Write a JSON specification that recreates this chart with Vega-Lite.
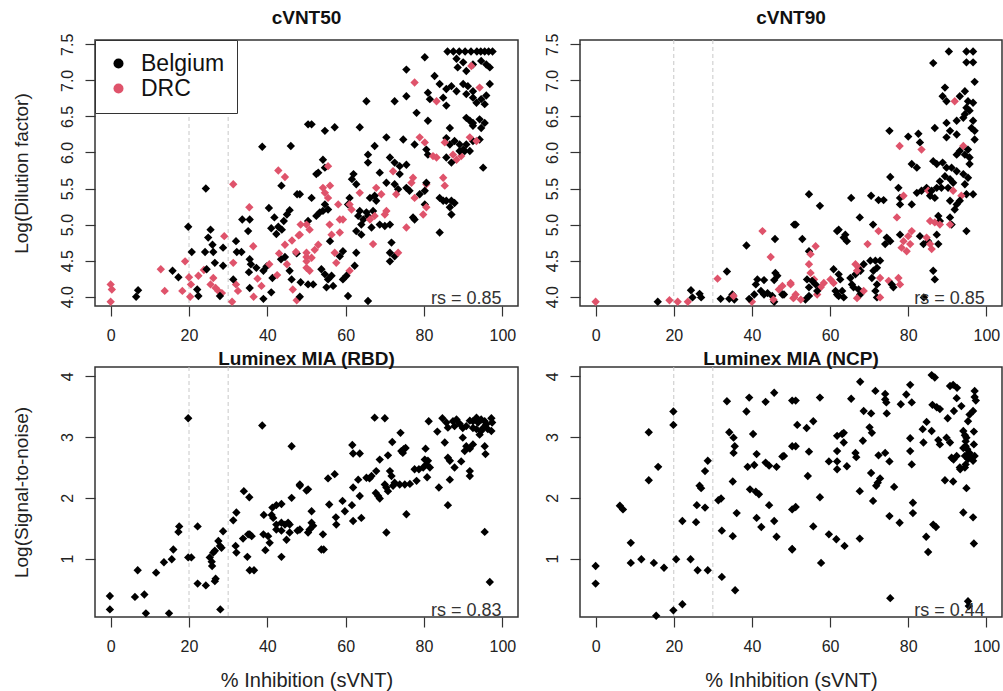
{
"$schema": "https://vega.github.io/schema/vega-lite/v6.json",
"padding": {"left": 11, "top": 8, "right": 0, "bottom": 0},
"autosize": {"type": "pad"},
"bounds": "flush",
"columns": 2,
"spacing": {"row": 61, "column": 62},
"config": {
  "font": "Liberation Sans",
  "view": {"stroke": "#333", "strokeWidth": 1.5},
  "axis": {"domain": false, "grid": false, "ticks": true, "tickSize": 10, "tickColor": "#333", "tickWidth": 1.2, "labelFont": "Liberation Sans", "labelFontSize": 16, "labelColor": "#222", "titleFont": "Liberation Sans", "titleFontWeight": "normal", "titleFontSize": 19, "titleColor": "#222", "labelOverlap": false, "labelFlush": false},
  "title": {"font": "Liberation Sans", "fontSize": 19, "fontWeight": "bold", "color": "#111", "frame": "group", "anchor": "middle", "offset": 5}
},
"concat": [
 {"width": 423, "height": 266, "title": "cVNT50",
  "layer": [
   {"data": {"values": [{"x": 20}, {"x": 30}]}, "mark": {"type": "rule", "strokeDash": [4, 3], "color": "#c8c8c8", "strokeWidth": 1}, "encoding": {"x": {"field": "x", "type": "quantitative"}}},
   {"data": {"values": [
{"x":0,"y":4.17,"c":"D"},{"x":0.3,"y":4.1,"c":"D"},{"x":0,"y":3.93,"c":"D"},{"x":7,"y":4.09,"c":"B"},{"x":6.5,"y":4.0,"c":"B"},{"x":13.8,"y":4.08,"c":"D"},{"x":12.8,"y":4.38,"c":"D"},{"x":15.8,"y":4.36,"c":"B"},{"x":17.3,"y":4.27,"c":"B"},{"x":18.3,"y":4.08,"c":"D"},{"x":19,"y":4.49,"c":"D"},{"x":20,"y":4.27,"c":"D"},{"x":20.5,"y":4.17,"c":"D"},{"x":20.3,"y":4.0,"c":"D"},{"x":19.8,"y":4.97,"c":"B"},{"x":20.7,"y":4.62,"c":"B"},{"x":22.1,"y":4.1,"c":"B"},{"x":22.4,"y":4.01,"c":"B"},{"x":22.4,"y":4.29,"c":"D"},{"x":23.8,"y":4.37,"c":"D"},{"x":24.3,"y":5.5,"c":"B"},{"x":24.1,"y":4.62,"c":"B"},{"x":24.5,"y":4.38,"c":"B"},{"x":26.2,"y":4.62,"c":"B"},{"x":25.5,"y":4.93,"c":"B"},{"x":24.9,"y":4.82,"c":"B"},{"x":26,"y":4.72,"c":"B"},{"x":25.5,"y":4.17,"c":"D"},{"x":26.2,"y":4.26,"c":"D"},{"x":26.8,"y":4.12,"c":"D"},{"x":27.5,"y":4.08,"c":"D"},{"x":28.4,"y":4.05,"c":"D"},{"x":27.9,"y":4.01,"c":"B"},{"x":26.6,"y":4.47,"c":"B"},{"x":28.7,"y":4.43,"c":"B"},{"x":28.7,"y":4.68,"c":"B"},{"x":29,"y":4.84,"c":"D"},{"x":31.3,"y":5.56,"c":"D"},{"x":31.3,"y":4.47,"c":"D"},{"x":32,"y":4.17,"c":"D"},{"x":32.5,"y":4.08,"c":"D"},{"x":31,"y":3.93,"c":"D"},{"x":31.3,"y":4.24,"c":"B"},{"x":32,"y":4.77,"c":"B"},{"x":32.2,"y":4.62,"c":"B"},{"x":33.4,"y":4.62,"c":"B"},{"x":33.6,"y":5.07,"c":"B"},{"x":35.5,"y":5.07,"c":"B"},{"x":35.1,"y":4.91,"c":"B"},{"x":35.5,"y":4.52,"c":"B"},{"x":35.8,"y":4.45,"c":"B"},{"x":35.5,"y":4.12,"c":"B"},{"x":35.3,"y":4.34,"c":"B"},{"x":37.2,"y":4.4,"c":"B"},{"x":35.4,"y":5.24,"c":"D"},{"x":36.4,"y":4.7,"c":"D"},{"x":36.5,"y":4.0,"c":"D"},{"x":37.5,"y":4.25,"c":"D"},{"x":38.7,"y":6.08,"c":"B"},{"x":40.4,"y":5.23,"c":"B"},{"x":41.8,"y":5.1,"c":"B"},{"x":41,"y":4.95,"c":"B"},{"x":42.3,"y":4.87,"c":"B"},{"x":42.8,"y":4.97,"c":"B"},{"x":43.7,"y":4.93,"c":"B"},{"x":44.2,"y":5.05,"c":"B"},{"x":45,"y":5.14,"c":"B"},{"x":45.7,"y":5.2,"c":"B"},{"x":43.6,"y":5.54,"c":"B"},{"x":46,"y":6.09,"c":"B"},{"x":47.6,"y":5.42,"c":"B"},{"x":45.7,"y":4.36,"c":"B"},{"x":46.2,"y":4.24,"c":"B"},{"x":41.3,"y":4.26,"c":"B"},{"x":39,"y":4.36,"c":"B"},{"x":39.8,"y":4.42,"c":"B"},{"x":43.5,"y":4.52,"c":"B"},{"x":44.5,"y":4.55,"c":"B"},{"x":47.5,"y":4.6,"c":"B"},{"x":48.5,"y":4.2,"c":"B"},{"x":41,"y":4.06,"c":"B"},{"x":39,"y":3.97,"c":"B"},{"x":42.8,"y":5.75,"c":"D"},{"x":44.5,"y":5.66,"c":"D"},{"x":43,"y":4.6,"c":"D"},{"x":44.5,"y":4.72,"c":"D"},{"x":46.3,"y":4.78,"c":"D"},{"x":47.3,"y":4.62,"c":"D"},{"x":48,"y":4.85,"c":"D"},{"x":48.5,"y":5.0,"c":"D"},{"x":45,"y":4.45,"c":"D"},{"x":42.5,"y":4.3,"c":"D"},{"x":40.5,"y":4.45,"c":"D"},{"x":46.5,"y":4.1,"c":"D"},{"x":50,"y":4.55,"c":"D"},{"x":38.5,"y":4.15,"c":"D"},{"x":47.5,"y":3.95,"c":"D"},{"x":50.4,"y":6.39,"c":"B"},
{"x":86,"y":7.4,"c":"B"},{"x":87.5,"y":7.4,"c":"B"},{"x":89,"y":7.4,"c":"B"},{"x":90.5,"y":7.4,"c":"B"},{"x":92,"y":7.4,"c":"B"},{"x":93.5,"y":7.4,"c":"B"},{"x":94.5,"y":7.4,"c":"B"},{"x":95.5,"y":7.4,"c":"B"},{"x":96.5,"y":7.4,"c":"B"},{"x":97.5,"y":7.4,"c":"B"},{"x":80.2,"y":7.32,"c":"B"},{"x":88.3,"y":7.3,"c":"B"},{"x":90,"y":7.25,"c":"B"},{"x":88.6,"y":7.18,"c":"B"},{"x":90.8,"y":7.13,"c":"B"},{"x":92.5,"y":7.22,"c":"B"},{"x":94.6,"y":7.27,"c":"B"},{"x":95.9,"y":7.22,"c":"B"},{"x":96.8,"y":7.18,"c":"B"},{"x":92.1,"y":7.2,"c":"D"},{"x":75.5,"y":7.15,"c":"B"},{"x":82.7,"y":7.06,"c":"B"},{"x":77.6,"y":6.97,"c":"D"},{"x":84,"y":6.95,"c":"B"},{"x":85.7,"y":6.88,"c":"B"},{"x":87,"y":6.92,"c":"B"},{"x":88.3,"y":6.85,"c":"B"},{"x":90,"y":6.95,"c":"B"},{"x":91.2,"y":6.92,"c":"B"},{"x":92.5,"y":6.85,"c":"B"},{"x":96.8,"y":6.95,"c":"B"},{"x":94.2,"y":6.9,"c":"D"},{"x":81,"y":6.83,"c":"B"},{"x":75.5,"y":6.78,"c":"B"},{"x":81.5,"y":6.74,"c":"B"},{"x":83.2,"y":6.71,"c":"D"},{"x":84.9,"y":6.76,"c":"B"},{"x":85.7,"y":6.65,"c":"B"},{"x":90.8,"y":6.81,"c":"B"},{"x":92.5,"y":6.76,"c":"B"},{"x":93.4,"y":6.69,"c":"B"},{"x":94.6,"y":6.74,"c":"B"},{"x":95.5,"y":6.67,"c":"B"},{"x":95.9,"y":6.79,"c":"B"},{"x":65.3,"y":6.71,"c":"B"},{"x":72.5,"y":6.71,"c":"B"},{"x":78.1,"y":6.55,"c":"B"},{"x":81,"y":6.44,"c":"B"},{"x":90.8,"y":6.48,"c":"B"},{"x":91.7,"y":6.44,"c":"B"},{"x":92.5,"y":6.41,"c":"B"},{"x":94.2,"y":6.46,"c":"B"},{"x":92.5,"y":6.37,"c":"B"},{"x":94.6,"y":6.34,"c":"B"},{"x":95.5,"y":6.41,"c":"B"},{"x":51.3,"y":6.39,"c":"B"},{"x":54.7,"y":6.3,"c":"B"},{"x":57.2,"y":6.35,"c":"B"},{"x":63.6,"y":6.35,"c":"B"},{"x":86.6,"y":6.34,"c":"B"},{"x":70.4,"y":6.21,"c":"B"},{"x":74.7,"y":6.18,"c":"B"},{"x":78.9,"y":6.21,"c":"D"},{"x":80.2,"y":6.14,"c":"D"},{"x":77.6,"y":6.11,"c":"B"},{"x":85.7,"y":6.2,"c":"B"},{"x":86.6,"y":6.11,"c":"B"},{"x":87.8,"y":6.16,"c":"B"},{"x":89.1,"y":6.11,"c":"B"},{"x":90,"y":6.04,"c":"B"},{"x":90.8,"y":6.11,"c":"B"},{"x":92.5,"y":6.16,"c":"B"},{"x":94.2,"y":6.18,"c":"B"},{"x":91.7,"y":6.21,"c":"D"},{"x":93.4,"y":6.16,"c":"D"},{"x":85.3,"y":6.14,"c":"D"},{"x":67.4,"y":6.09,"c":"B"},{"x":71.3,"y":5.93,"c":"B"},{"x":72.5,"y":5.86,"c":"B"},{"x":73.8,"y":5.81,"c":"B"},{"x":75.5,"y":5.83,"c":"B"},{"x":80.6,"y":6.04,"c":"B"},{"x":81,"y":5.97,"c":"B"},{"x":82.3,"y":5.95,"c":"D"},{"x":83.2,"y":5.93,"c":"D"},{"x":87.4,"y":5.97,"c":"D"},{"x":88.3,"y":5.9,"c":"D"},{"x":89.5,"y":5.95,"c":"D"},{"x":90.4,"y":6.02,"c":"B"},{"x":91.7,"y":6.02,"c":"B"},{"x":89.1,"y":6.02,"c":"B"},{"x":85.7,"y":5.93,"c":"B"},{"x":87,"y":5.86,"c":"B"},{"x":95.1,"y":5.79,"c":"B"},{"x":65.7,"y":5.97,"c":"B"},{"x":65.7,"y":5.86,"c":"B"},{"x":54.2,"y":5.9,"c":"B"},{"x":54.7,"y":5.79,"c":"B"},{"x":53,"y":5.72,"c":"B"},{"x":52.5,"y":5.7,"c":"B"},{"x":55.5,"y":5.81,"c":"D"},{"x":68.7,"y":5.72,"c":"B"},{"x":72.1,"y":5.74,"c":"D"},{"x":73.8,"y":5.7,"c":"B"},{"x":62,"y":5.7,"c":"B"},{"x":61.6,"y":5.63,"c":"B"},{"x":62.7,"y":5.56,"c":"B"},{"x":77.2,"y":5.65,"c":"D"},{"x":76.8,"y":5.58,"c":"D"},{"x":80.6,"y":5.56,"c":"D"},{"x":84.9,"y":5.65,"c":"D"},{"x":85.3,"y":5.54,"c":"D"},{"x":70.4,"y":5.58,"c":"B"},{"x":72.5,"y":5.56,"c":"B"},{"x":73.4,"y":5.49,"c":"B"},{"x":75.5,"y":5.51,"c":"B"},{"x":67.8,"y":5.51,"c":"D"},{"x":69.1,"y":5.42,"c":"D"},{"x":54.2,"y":5.51,"c":"D"},{"x":56,"y":5.54,"c":"D"},{"x":54.7,"y":5.44,"c":"D"},{"x":55.5,"y":5.37,"c":"D"},{"x":51.3,"y":5.37,"c":"B"},{"x":61,"y":5.37,"c":"B"},{"x":60.6,"y":5.28,"c":"B"},{"x":63.6,"y":5.44,"c":"D"},{"x":66.2,"y":5.37,"c":"B"},{"x":67.4,"y":5.4,"c":"B"},{"x":67.8,"y":5.33,"c":"B"},{"x":72.9,"y":5.42,"c":"D"},{"x":76.3,"y":5.47,"c":"B"},{"x":77.6,"y":5.37,"c":"D"},{"x":78.9,"y":5.42,"c":"B"},{"x":80.2,"y":5.47,"c":"B"},{"x":80.6,"y":5.58,"c":"B"},{"x":84,"y":5.37,"c":"B"},{"x":84.9,"y":5.33,"c":"B"},{"x":85.7,"y":5.33,"c":"B"},{"x":87,"y":5.33,"c":"B"},{"x":87.8,"y":5.3,"c":"B"},{"x":80.2,"y":5.28,"c":"B"},{"x":80.6,"y":5.24,"c":"D"},{"x":79.8,"y":5.14,"c":"D"},{"x":86.6,"y":5.24,"c":"B"},{"x":87,"y":5.14,"c":"B"},{"x":84,"y":4.89,"c":"B"},{"x":48.3,"y":5.42,"c":"B"},{"x":54.7,"y":5.28,"c":"B"},{"x":55.5,"y":5.21,"c":"B"},{"x":54.2,"y":5.19,"c":"B"},{"x":58.1,"y":5.28,"c":"D"},{"x":61,"y":5.28,"c":"D"},{"x":61.5,"y":5.21,"c":"D"},{"x":63.6,"y":5.19,"c":"B"},{"x":63.2,"y":5.12,"c":"B"},{"x":65.3,"y":5.17,"c":"B"},{"x":67,"y":5.19,"c":"B"},{"x":65.7,"y":5.12,"c":"B"},{"x":64.5,"y":5.07,"c":"B"},{"x":64,"y":5.0,"c":"B"},{"x":66.2,"y":5.07,"c":"D"},{"x":67.4,"y":5.12,"c":"D"},{"x":70.4,"y":5.19,"c":"D"},{"x":70,"y":5.14,"c":"D"},{"x":68.7,"y":5.0,"c":"B"},{"x":70,"y":4.98,"c":"B"},{"x":71.3,"y":5.0,"c":"B"},{"x":52.5,"y":5.12,"c":"B"},{"x":53.4,"y":5.17,"c":"B"},{"x":50.4,"y":5.05,"c":"B"},{"x":50,"y":5.0,"c":"D"},{"x":50.8,"y":4.93,"c":"D"},{"x":48.3,"y":4.86,"c":"D"},{"x":58.5,"y":5.07,"c":"D"},{"x":59.3,"y":5.07,"c":"D"},{"x":55.9,"y":5.0,"c":"D"},{"x":56.4,"y":4.86,"c":"D"},{"x":58.5,"y":4.89,"c":"D"},{"x":62.7,"y":4.91,"c":"B"},{"x":64,"y":4.86,"c":"B"},{"x":66.6,"y":4.96,"c":"B"},{"x":67,"y":4.73,"c":"D"},{"x":71.7,"y":4.75,"c":"B"},{"x":75.5,"y":4.96,"c":"D"},{"x":77.6,"y":5.07,"c":"B"},{"x":77.2,"y":5.1,"c":"B"},{"x":71.3,"y":4.61,"c":"B"},{"x":72.5,"y":4.56,"c":"B"},{"x":71.3,"y":4.49,"c":"B"},{"x":73.4,"y":4.61,"c":"D"},{"x":56,"y":4.77,"c":"B"},{"x":53,"y":4.72,"c":"D"},{"x":52.1,"y":4.65,"c":"D"},{"x":50,"y":4.61,"c":"D"},{"x":51.3,"y":4.54,"c":"D"},{"x":50,"y":4.49,"c":"D"},{"x":59.3,"y":4.63,"c":"B"},{"x":58.5,"y":4.56,"c":"B"},{"x":57.2,"y":4.61,"c":"D"},{"x":57.6,"y":4.47,"c":"D"},{"x":62.7,"y":4.61,"c":"B"},{"x":53.8,"y":4.38,"c":"B"},{"x":54.7,"y":4.31,"c":"B"},{"x":55.5,"y":4.24,"c":"B"},{"x":56.4,"y":4.29,"c":"B"},{"x":61,"y":4.36,"c":"D"},{"x":60.2,"y":4.29,"c":"B"},{"x":59.3,"y":4.24,"c":"B"},{"x":62.3,"y":4.43,"c":"B"},{"x":50.8,"y":4.36,"c":"D"},{"x":50,"y":4.4,"c":"D"},{"x":50.4,"y":4.17,"c":"B"},{"x":51.7,"y":4.17,"c":"B"},{"x":55.1,"y":4.13,"c":"B"},{"x":56.8,"y":4.15,"c":"B"},{"x":60.6,"y":4.01,"c":"B"},{"x":65.7,"y":3.94,"c":"B"},{"x":48.3,"y":4.0,"c":"B"}
   ]},
   "mark": {"type": "point", "shape": "diamond", "filled": true, "size": 70, "opacity": 1},
   "encoding": {
     "x": {"field": "x", "type": "quantitative", "scale": {"domain": [-4, 104], "nice": false, "zero": false}, "axis": {"values": [0, 20, 40, 60, 80, 100], "tickCount": 20, "labelPadding": 11, "labelOverlap": false, "title": null}},
     "y": {"field": "y", "type": "quantitative", "scale": {"domain": [3.871, 7.56], "nice": false, "zero": false}, "axis": {"values": [4, 4.5, 5, 5.5, 6, 6.5, 7, 7.5], "tickCount": 20, "format": ".1f", "labelOverlap": false, "labelAngle": -90, "labelAlign": "center", "labelBaseline": "bottom", "labelPadding": 10, "title": "Log(Dilution factor)", "titleX": -74, "titleY": 133, "titleAngle": -90, "titleAlign": "center", "titleBaseline": "middle"}},
     "color": {"field": "c", "type": "nominal", "scale": {"domain": ["B", "D"], "range": ["#000000", "#DF536B"]},
       "legend": {"orient": "top-left", "offset": 0, "title": null, "padding": 12, "strokeColor": "#333", "fillColor": "white", "symbolType": "circle", "symbolSize": 100, "symbolStrokeWidth": 0, "labelFontSize": 23, "labelFont": "Liberation Sans", "labelColor": "#111", "labelOffset": 11, "symbolOffset": 0, "rowPadding": 1, "labelExpr": "datum.label == 'B' ? 'Belgium' : 'DRC'"}}
   }},
   {"data": {"values": [{"x": 99.8, "y": 3.899, "t": "rs = 0.85"}]}, "mark": {"type": "text", "align": "right", "baseline": "alphabetic", "fontSize": 18, "color": "#333"}, "encoding": {"x": {"field": "x", "type": "quantitative"}, "y": {"field": "y", "type": "quantitative"}, "text": {"field": "t"}}}
  ]},
 {"width": 422, "height": 266, "title": "cVNT90",
  "layer": [
   {"data": {"values": [{"x": 20}, {"x": 30}]}, "mark": {"type": "rule", "strokeDash": [4, 3], "color": "#c8c8c8", "strokeWidth": 1}, "encoding": {"x": {"field": "x", "type": "quantitative"}}},
   {"data": {"values": [
{"x":0,"y":3.93,"c":"D"},{"x":15.9,"y":3.93,"c":"B"},{"x":18.9,"y":3.95,"c":"D"},{"x":21,"y":3.93,"c":"D"},{"x":23.6,"y":3.93,"c":"D"},{"x":24.4,"y":4.09,"c":"B"},{"x":24.8,"y":3.99,"c":"B"},{"x":26.6,"y":4.04,"c":"B"},{"x":27,"y":3.99,"c":"B"},{"x":31.2,"y":4.25,"c":"D"},{"x":33.6,"y":4.35,"c":"B"},{"x":32,"y":3.97,"c":"B"},{"x":34.2,"y":3.97,"c":"B"},{"x":35,"y":4.03,"c":"B"},{"x":35.5,"y":3.96,"c":"B"},{"x":35.3,"y":4.01,"c":"D"},{"x":38.6,"y":4.71,"c":"B"},{"x":40,"y":3.93,"c":"D"},{"x":39.3,"y":3.97,"c":"B"},{"x":40.6,"y":4.03,"c":"B"},{"x":41,"y":4.17,"c":"B"},{"x":41.4,"y":4.24,"c":"B"},{"x":43.1,"y":4.23,"c":"B"},{"x":42.3,"y":4.08,"c":"B"},{"x":43.1,"y":4.03,"c":"B"},{"x":44,"y":4.05,"c":"B"},{"x":45.2,"y":4.01,"c":"B"},{"x":45.7,"y":3.93,"c":"B"},{"x":42.7,"y":4.91,"c":"D"},{"x":45.9,"y":4.8,"c":"B"},{"x":44.8,"y":4.55,"c":"D"},{"x":46,"y":4.33,"c":"B"},{"x":46.5,"y":4.29,"c":"B"},{"x":45.7,"y":4.23,"c":"B"},{"x":45.5,"y":3.96,"c":"D"},{"x":46.9,"y":4.1,"c":"D"},{"x":47.8,"y":4.15,"c":"D"},{"x":47.8,"y":4.03,"c":"B"},{"x":49.9,"y":4.19,"c":"D"},{"x":50.6,"y":3.98,"c":"D"},{"x":50.8,"y":5.0,"c":"B"},
{"x":90.4,"y":7.4,"c":"B"},{"x":94.9,"y":7.4,"c":"B"},{"x":96.6,"y":7.4,"c":"B"},{"x":94.9,"y":7.25,"c":"B"},{"x":96.6,"y":7.25,"c":"B"},{"x":86.4,"y":7.24,"c":"B"},{"x":97,"y":6.98,"c":"B"},{"x":89.4,"y":6.9,"c":"B"},{"x":88.8,"y":6.78,"c":"B"},{"x":89.8,"y":6.71,"c":"B"},{"x":91.9,"y":6.71,"c":"D"},{"x":93.2,"y":6.78,"c":"B"},{"x":94.5,"y":6.85,"c":"B"},{"x":95.3,"y":6.71,"c":"B"},{"x":96.6,"y":6.69,"c":"B"},{"x":94.9,"y":6.62,"c":"B"},{"x":94.5,"y":6.53,"c":"B"},{"x":95.7,"y":6.58,"c":"B"},{"x":96.6,"y":6.44,"c":"B"},{"x":96.2,"y":6.34,"c":"B"},{"x":97,"y":6.3,"c":"B"},{"x":94.1,"y":6.48,"c":"B"},{"x":92.4,"y":6.44,"c":"B"},{"x":89.8,"y":6.41,"c":"B"},{"x":86.8,"y":6.34,"c":"B"},{"x":90.7,"y":6.3,"c":"B"},{"x":89.8,"y":6.21,"c":"B"},{"x":92.4,"y":6.25,"c":"B"},{"x":75.2,"y":6.3,"c":"B"},{"x":80,"y":6.22,"c":"B"},{"x":82.6,"y":6.26,"c":"B"},{"x":83,"y":6.14,"c":"B"},{"x":77.8,"y":6.09,"c":"D"},{"x":83.4,"y":6.04,"c":"D"},{"x":94.1,"y":6.09,"c":"D"},{"x":93.2,"y":6.02,"c":"B"},{"x":94.5,"y":5.97,"c":"B"},{"x":95.3,"y":6.04,"c":"B"},{"x":95.7,"y":5.93,"c":"B"},{"x":92.4,"y":5.97,"c":"B"},{"x":97,"y":6.18,"c":"B"},{"x":80.9,"y":5.84,"c":"B"},{"x":82.2,"y":5.79,"c":"B"},{"x":87.3,"y":5.84,"c":"B"},{"x":88.8,"y":5.86,"c":"B"},{"x":89.8,"y":5.79,"c":"B"},{"x":91.1,"y":5.79,"c":"B"},{"x":92.4,"y":5.74,"c":"B"},{"x":95.7,"y":5.84,"c":"B"},{"x":95.3,"y":5.65,"c":"B"},{"x":89.4,"y":5.67,"c":"B"},{"x":90.7,"y":5.63,"c":"B"},{"x":91.5,"y":5.58,"c":"B"},{"x":88.1,"y":5.6,"c":"B"},{"x":88.5,"y":5.51,"c":"B"},{"x":90.2,"y":5.51,"c":"B"},{"x":94.1,"y":5.7,"c":"B"},{"x":94.5,"y":5.56,"c":"B"},{"x":94.9,"y":5.42,"c":"B"},{"x":96.6,"y":5.42,"c":"B"},{"x":86.4,"y":5.88,"c":"B"},{"x":75.4,"y":5.66,"c":"B"},{"x":77.5,"y":5.51,"c":"B"},{"x":77.9,"y":5.37,"c":"B"},{"x":82.2,"y":5.44,"c":"B"},{"x":83.4,"y":5.47,"c":"B"},{"x":84.7,"y":5.51,"c":"B"},{"x":85.1,"y":5.47,"c":"D"},{"x":86,"y":5.47,"c":"B"},{"x":87.3,"y":5.51,"c":"B"},{"x":86.8,"y":5.37,"c":"B"},{"x":85.6,"y":5.4,"c":"B"},{"x":78.8,"y":5.4,"c":"D"},{"x":91.5,"y":5.47,"c":"D"},{"x":93.6,"y":5.4,"c":"D"},{"x":92.4,"y":5.28,"c":"B"},{"x":93.2,"y":5.33,"c":"B"},{"x":91.9,"y":5.21,"c":"B"},{"x":90.7,"y":5.33,"c":"B"},{"x":54.6,"y":5.42,"c":"B"},{"x":57.4,"y":5.26,"c":"B"},{"x":65.4,"y":5.37,"c":"B"},{"x":70.5,"y":5.4,"c":"B"},{"x":72.4,"y":5.34,"c":"B"},{"x":73.7,"y":5.34,"c":"B"},{"x":77.9,"y":5.28,"c":"B"},{"x":80.9,"y":5.28,"c":"B"},{"x":87.7,"y":5.12,"c":"B"},{"x":88.1,"y":5.05,"c":"B"},{"x":85.6,"y":5.05,"c":"D"},{"x":86.8,"y":5.03,"c":"D"},{"x":88.1,"y":5.0,"c":"D"},{"x":90.7,"y":5.1,"c":"B"},{"x":91.1,"y":5.0,"c":"B"},{"x":90.7,"y":5.0,"c":"D"},{"x":94.9,"y":4.91,"c":"B"},{"x":77.1,"y":5.1,"c":"D"},{"x":67.6,"y":5.1,"c":"B"},{"x":71,"y":5.0,"c":"B"},{"x":62.2,"y":4.93,"c":"B"},{"x":61.8,"y":4.91,"c":"B"},{"x":63.5,"y":4.82,"c":"B"},{"x":64.3,"y":4.77,"c":"B"},{"x":63.9,"y":4.86,"c":"B"},{"x":51.2,"y":5.0,"c":"B"},{"x":72.4,"y":4.91,"c":"D"},{"x":69.6,"y":4.73,"c":"D"},{"x":74.5,"y":4.82,"c":"B"},{"x":74.1,"y":4.73,"c":"B"},{"x":75.4,"y":4.77,"c":"B"},{"x":80.9,"y":4.91,"c":"D"},{"x":80,"y":4.84,"c":"D"},{"x":80.5,"y":4.73,"c":"D"},{"x":77.9,"y":4.86,"c":"B"},{"x":78.8,"y":4.77,"c":"D"},{"x":83,"y":4.84,"c":"B"},{"x":83.9,"y":4.73,"c":"B"},{"x":85.1,"y":4.77,"c":"B"},{"x":84.7,"y":4.82,"c":"D"},{"x":85.6,"y":4.73,"c":"D"},{"x":86,"y":4.66,"c":"D"},{"x":87.3,"y":4.86,"c":"B"},{"x":87.7,"y":4.73,"c":"B"},{"x":78.3,"y":4.68,"c":"D"},{"x":79.6,"y":4.63,"c":"D"},{"x":52.9,"y":4.8,"c":"B"},{"x":56.3,"y":4.7,"c":"D"},{"x":54.6,"y":4.63,"c":"B"},{"x":55,"y":4.59,"c":"D"},{"x":54.6,"y":4.45,"c":"D"},{"x":55,"y":4.33,"c":"D"},{"x":55.9,"y":4.24,"c":"D"},{"x":54.1,"y":4.24,"c":"B"},{"x":55.4,"y":4.22,"c":"B"},{"x":54.6,"y":4.13,"c":"B"},{"x":60.9,"y":4.38,"c":"B"},{"x":62.2,"y":4.31,"c":"B"},{"x":62.6,"y":4.24,"c":"B"},{"x":60.1,"y":4.24,"c":"D"},{"x":60.9,"y":4.19,"c":"D"},{"x":66.5,"y":4.45,"c":"D"},{"x":67.3,"y":4.4,"c":"D"},{"x":68.6,"y":4.45,"c":"B"},{"x":67.8,"y":4.36,"c":"B"},{"x":66.5,"y":4.31,"c":"B"},{"x":70.3,"y":4.5,"c":"B"},{"x":71.6,"y":4.5,"c":"B"},{"x":72.8,"y":4.5,"c":"B"},{"x":72,"y":4.4,"c":"B"},{"x":71.1,"y":4.36,"c":"B"},{"x":70.7,"y":4.26,"c":"B"},{"x":72.8,"y":4.26,"c":"D"},{"x":75,"y":4.22,"c":"D"},{"x":77.5,"y":4.26,"c":"D"},{"x":77.9,"y":4.17,"c":"D"},{"x":75.8,"y":4.17,"c":"B"},{"x":76.2,"y":4.13,"c":"B"},{"x":65.2,"y":4.26,"c":"B"},{"x":65.6,"y":4.17,"c":"B"},{"x":66,"y":4.13,"c":"B"},{"x":67.3,"y":4.1,"c":"B"},{"x":67.7,"y":4.03,"c":"B"},{"x":66.9,"y":4.36,"c":"D"},{"x":68.6,"y":4.08,"c":"D"},{"x":63.1,"y":4.08,"c":"B"},{"x":62.2,"y":4.01,"c":"B"},{"x":63.5,"y":3.99,"c":"B"},{"x":58.4,"y":4.19,"c":"D"},{"x":57.6,"y":4.13,"c":"D"},{"x":56.7,"y":4.03,"c":"D"},{"x":56.3,"y":4.17,"c":"B"},{"x":56.7,"y":4.08,"c":"B"},{"x":54.6,"y":4.01,"c":"B"},{"x":53.7,"y":3.96,"c":"B"},{"x":49.9,"y":4.17,"c":"D"},{"x":51.2,"y":4.03,"c":"D"},{"x":50.8,"y":3.99,"c":"D"},{"x":52.5,"y":3.96,"c":"D"},{"x":48.2,"y":4.03,"c":"B"},{"x":61.4,"y":4.08,"c":"B"},{"x":61.8,"y":4.03,"c":"B"},{"x":66.9,"y":3.98,"c":"D"},{"x":72,"y":4.17,"c":"B"},{"x":71.6,"y":4.08,"c":"B"},{"x":72,"y":3.99,"c":"B"},{"x":72.8,"y":3.99,"c":"D"},{"x":86.4,"y":4.36,"c":"B"},{"x":86.8,"y":4.24,"c":"B"},{"x":84,"y":3.99,"c":"B"}
   ]},
   "mark": {"type": "point", "shape": "diamond", "filled": true, "size": 70, "opacity": 1},
   "encoding": {
     "x": {"field": "x", "type": "quantitative", "scale": {"domain": [-4, 104], "nice": false, "zero": false}, "axis": {"values": [0, 20, 40, 60, 80, 100], "tickCount": 20, "labelPadding": 11, "labelOverlap": false, "title": null}},
     "y": {"field": "y", "type": "quantitative", "scale": {"domain": [3.871, 7.56], "nice": false, "zero": false}, "axis": {"values": [4, 4.5, 5, 5.5, 6, 6.5, 7, 7.5], "tickCount": 20, "format": ".1f", "labelOverlap": false, "labelAngle": -90, "labelAlign": "center", "labelBaseline": "bottom", "labelPadding": 10, "title": null}},
     "color": {"field": "c", "type": "nominal", "scale": {"domain": ["B", "D"], "range": ["#000000", "#DF536B"]}, "legend": null}
   }},
   {"data": {"values": [{"x": 99.6, "y": 3.899, "t": "rs = 0.85"}]}, "mark": {"type": "text", "align": "right", "baseline": "alphabetic", "fontSize": 18, "color": "#333"}, "encoding": {"x": {"field": "x", "type": "quantitative"}, "y": {"field": "y", "type": "quantitative"}, "text": {"field": "t"}}}
  ]},
 {"width": 423, "height": 250, "title": {"text": "Luminex MIA (RBD)", "offset": -2},
  "layer": [
   {"data": {"values": [{"x": 20}, {"x": 30}]}, "mark": {"type": "rule", "strokeDash": [4, 3], "color": "#c8c8c8", "strokeWidth": 1}, "encoding": {"x": {"field": "x", "type": "quantitative"}}},
   {"data": {"values": [
{"x":-0.2,"y":0.385},{"x":-0.2,"y":0.165},{"x":6.2,"y":0.37},{"x":8.6,"y":0.41},{"x":9,"y":0.1},{"x":14.9,"y":0.1},{"x":6.9,"y":0.81},{"x":11.6,"y":0.77},{"x":13.6,"y":0.94},{"x":15.6,"y":0.99},{"x":16,"y":1.15},{"x":17.3,"y":1.44},{"x":17.5,"y":1.53},{"x":19.8,"y":3.31},{"x":19.8,"y":1.02},{"x":20.6,"y":1.02},{"x":22.2,"y":1.53},{"x":22.2,"y":0.59},{"x":24.3,"y":0.56},{"x":26.6,"y":0.63},{"x":26.8,"y":0.67},{"x":28,"y":0.165},{"x":25.3,"y":1.02},{"x":25.8,"y":0.95},{"x":26.2,"y":1.1},{"x":26.6,"y":1.13},{"x":27.5,"y":1.29},{"x":27.9,"y":1.21},{"x":28.3,"y":1.18},{"x":28.7,"y":1.45},{"x":25.9,"y":0.88},{"x":31.3,"y":1.63},{"x":32.1,"y":1.76},{"x":31.9,"y":1.21},{"x":32.1,"y":1.1},{"x":34,"y":2.11},{"x":35.4,"y":2.01},{"x":33.8,"y":1.33},{"x":35.1,"y":1.4},{"x":35.5,"y":1.4},{"x":36,"y":1.37},{"x":34.9,"y":1.03},{"x":35.5,"y":0.81},{"x":36.6,"y":0.81},{"x":38.7,"y":3.19},{"x":39.1,"y":1.72},{"x":41.1,"y":1.72},{"x":39,"y":1.4},{"x":40.2,"y":1.37},{"x":39.5,"y":1.14},{"x":40.6,"y":1.26},{"x":41.3,"y":1.84},{"x":42.3,"y":1.88},{"x":43.6,"y":1.9},{"x":41.5,"y":1.67},{"x":42.3,"y":1.56},{"x":43.6,"y":1.59},{"x":44.5,"y":1.56},{"x":45.3,"y":1.59},{"x":45.7,"y":1.56},{"x":42.3,"y":1.48},{"x":43.6,"y":1.46},{"x":43.6,"y":1.03},{"x":44.9,"y":1.31},{"x":45.7,"y":1.43},{"x":46.2,"y":2.85},{"x":46.2,"y":2.0},{"x":47.7,"y":1.46},{"x":48.3,"y":2.2},{"x":50,"y":2.12},{"x":50.4,"y":1.43},
{"x":48.3,"y":2.22},{"x":50.4,"y":2.14},{"x":51.3,"y":1.78},{"x":51.3,"y":1.59},{"x":51.7,"y":1.54},{"x":50.8,"y":1.48},{"x":48.3,"y":1.48},{"x":54.2,"y":1.4},{"x":53.8,"y":1.15},{"x":54.4,"y":1.15},{"x":55.5,"y":2.32},{"x":57.2,"y":2.39},{"x":55.8,"y":1.89},{"x":57.5,"y":1.68},{"x":57.6,"y":1.56},{"x":59.2,"y":1.95},{"x":59.8,"y":1.78},{"x":61.6,"y":1.88},{"x":61.9,"y":1.62},{"x":64,"y":1.67},{"x":61.7,"y":2.87},{"x":61.9,"y":2.73},{"x":63.6,"y":2.73},{"x":61.9,"y":2.17},{"x":63.2,"y":2.3},{"x":63.6,"y":2.03},{"x":65.3,"y":2.33},{"x":66.1,"y":2.32},{"x":66.6,"y":2.36},{"x":67.8,"y":2.44},{"x":68.7,"y":2.63},{"x":70.8,"y":2.7},{"x":67.4,"y":3.32},{"x":70,"y":3.31},{"x":67.7,"y":2.08},{"x":68.3,"y":2.03},{"x":68.7,"y":1.99},{"x":70,"y":2.22},{"x":70.4,"y":2.17},{"x":70.8,"y":2.11},{"x":71.3,"y":2.44},{"x":71.7,"y":2.36},{"x":72.1,"y":2.2},{"x":70.4,"y":1.43},{"x":71.9,"y":2.92},{"x":72.5,"y":2.25},{"x":73.8,"y":2.22},{"x":75.1,"y":2.22},{"x":76.4,"y":2.23},{"x":78.1,"y":2.28},{"x":74,"y":3.07},{"x":74.8,"y":2.8},{"x":75.3,"y":2.82},{"x":74.2,"y":2.77},{"x":74.6,"y":2.74},{"x":75.5,"y":1.73},{"x":77.6,"y":2.47},{"x":78.7,"y":2.47},{"x":79.8,"y":2.5},{"x":80.6,"y":2.55},{"x":80.4,"y":2.81},{"x":80.2,"y":2.63},{"x":81,"y":2.61},{"x":81.5,"y":2.5},{"x":80.8,"y":2.34},{"x":81.2,"y":3.26},{"x":83.8,"y":2.17},{"x":83.4,"y":3.09},{"x":84.7,"y":3.31},{"x":85.7,"y":3.24},{"x":86.1,"y":3.155},{"x":85.3,"y":2.91},{"x":86.1,"y":2.66},{"x":86.6,"y":2.61},{"x":86.6,"y":2.3},{"x":86.1,"y":1.88},{"x":87.4,"y":3.26},{"x":87.8,"y":3.18},{"x":88.3,"y":3.29},{"x":89.1,"y":3.22},{"x":89.9,"y":3.15},{"x":90.8,"y":3.18},{"x":91.7,"y":3.27},{"x":92.5,"y":3.26},{"x":93.4,"y":3.32},{"x":93.8,"y":3.24},{"x":94.6,"y":3.29},{"x":95.5,"y":3.26},{"x":95.9,"y":3.21},{"x":97.2,"y":3.31},{"x":97.4,"y":3.24},{"x":94.6,"y":3.1},{"x":94.2,"y":3.04},{"x":95.1,"y":3.15},{"x":96.3,"y":3.13},{"x":97.2,"y":3.1},{"x":92.5,"y":3.15},{"x":93.4,"y":3.13},{"x":89.9,"y":2.99},{"x":87.8,"y":2.5},{"x":89.5,"y":2.6},{"x":90.4,"y":2.77},{"x":90.8,"y":2.85},{"x":91.7,"y":2.81},{"x":92.5,"y":2.88},{"x":91.7,"y":2.44},{"x":91.7,"y":2.36},{"x":95.5,"y":2.85},{"x":95.7,"y":2.72},{"x":95.5,"y":1.44},{"x":96.8,"y":0.615}
   ]},
   "mark": {"type": "point", "shape": "diamond", "filled": true, "size": 70, "opacity": 1, "color": "#000000"},
   "encoding": {
     "x": {"field": "x", "type": "quantitative", "scale": {"domain": [-4, 104], "nice": false, "zero": false}, "axis": {"values": [0, 20, 40, 60, 80, 100], "tickCount": 20, "labelPadding": 11, "labelOverlap": false, "title": "% Inhibition (sVNT)", "titleY": 63, "titleBaseline": "middle", "titleFontSize": 20}},
     "y": {"field": "y", "type": "quantitative", "scale": {"domain": [0.04, 4.153], "nice": false, "zero": false}, "axis": {"values": [1, 2, 3, 4], "tickCount": 20, "format": "d", "labelOverlap": false, "labelAngle": -90, "labelAlign": "center", "labelBaseline": "bottom", "labelPadding": 10, "title": "Log(Signal-to-noise)", "titleX": -74, "titleY": 125, "titleAngle": -90, "titleAlign": "center", "titleBaseline": "middle"}}
   }},
   {"data": {"values": [{"x": 99.8, "y": 0.056, "t": "rs = 0.83"}]}, "mark": {"type": "text", "align": "right", "baseline": "alphabetic", "fontSize": 18, "color": "#333"}, "encoding": {"x": {"field": "x", "type": "quantitative"}, "y": {"field": "y", "type": "quantitative"}, "text": {"field": "t"}}}
  ]},
 {"width": 422, "height": 250, "title": {"text": "Luminex MIA (NCP)", "offset": -2},
  "layer": [
   {"data": {"values": [{"x": 20}, {"x": 30}]}, "mark": {"type": "rule", "strokeDash": [4, 3], "color": "#c8c8c8", "strokeWidth": 1}, "encoding": {"x": {"field": "x", "type": "quantitative"}}},
   {"data": {"values": [
{"x":0,"y":0.88},{"x":0,"y":0.59},{"x":6.2,"y":1.87},{"x":7,"y":1.81},{"x":9,"y":1.26},{"x":9,"y":0.93},{"x":11.7,"y":0.99},{"x":13.6,"y":3.08},{"x":13.6,"y":2.29},{"x":14.9,"y":0.93},{"x":16,"y":2.51},{"x":17.5,"y":0.85},{"x":15.5,"y":0.06},{"x":19.9,"y":3.42},{"x":19.9,"y":3.2},{"x":20.6,"y":0.99},{"x":19.9,"y":0.15},{"x":22.2,"y":1.62},{"x":22.2,"y":0.25},{"x":24.3,"y":0.99},{"x":25.7,"y":1.6},{"x":25.9,"y":1.88},{"x":26.1,"y":0.81},{"x":26.6,"y":2.2},{"x":27,"y":2.16},{"x":28,"y":2.44},{"x":28,"y":1.84},{"x":28.7,"y":2.61},{"x":28.7,"y":0.81},{"x":31.4,"y":1.96},{"x":32.1,"y":1.99},{"x":32.3,"y":1.46},{"x":32.3,"y":0.7},{"x":33.6,"y":3.59},{"x":34.2,"y":3.08},{"x":35.3,"y":2.99},{"x":35.6,"y":2.85},{"x":35.3,"y":2.74},{"x":35.1,"y":2.27},{"x":35.1,"y":1.37},{"x":36.1,"y":1.75},{"x":35.7,"y":0.48},{"x":38.6,"y":3.42},{"x":39.3,"y":3.65},{"x":38.9,"y":2.51},{"x":40.6,"y":2.54},{"x":39.5,"y":2.14},{"x":41,"y":2.1},{"x":41.8,"y":2.06},{"x":40.3,"y":3.05},{"x":41.2,"y":2.72},{"x":41.2,"y":1.67},{"x":42.4,"y":1.52},{"x":43.5,"y":3.58},{"x":43.5,"y":2.58},{"x":44.4,"y":2.53},{"x":46.3,"y":2.51},{"x":44.4,"y":1.88},{"x":45.7,"y":3.73},{"x":45.7,"y":1.62},{"x":46.3,"y":1.36},{"x":47.8,"y":2.68},{"x":50.3,"y":3.6},{"x":50.3,"y":1.81},{"x":50.3,"y":2.85},{"x":50.3,"y":1.15},
{"x":48.2,"y":2.69},{"x":51.2,"y":3.6},{"x":57.4,"y":3.65},{"x":51.6,"y":3.2},{"x":54,"y":3.15},{"x":55.7,"y":3.26},{"x":51.2,"y":2.85},{"x":54.6,"y":2.76},{"x":54.3,"y":2.36},{"x":57.4,"y":2.01},{"x":51.2,"y":1.85},{"x":55.7,"y":1.53},{"x":50.3,"y":1.16},{"x":57.7,"y":0.93},{"x":59.7,"y":1.4},{"x":61.6,"y":1.32},{"x":63.7,"y":1.21},{"x":67.6,"y":1.33},{"x":59.7,"y":2.6},{"x":61.8,"y":2.6},{"x":61.8,"y":2.47},{"x":64.3,"y":2.52},{"x":61.8,"y":2.77},{"x":63.5,"y":2.91},{"x":61.8,"y":3.02},{"x":63.1,"y":3.05},{"x":63.5,"y":3.07},{"x":65.4,"y":3.63},{"x":67.7,"y":3.91},{"x":68.6,"y":3.43},{"x":70.5,"y":3.39},{"x":68.4,"y":2.94},{"x":66.5,"y":2.74},{"x":66.7,"y":2.67},{"x":67.6,"y":2.11},{"x":70.1,"y":3.16},{"x":70.7,"y":3.07},{"x":70.5,"y":2.41},{"x":71,"y":1.95},{"x":71.6,"y":3.76},{"x":74.1,"y":3.71},{"x":74.1,"y":3.62},{"x":74.4,"y":3.57},{"x":72.2,"y":2.25},{"x":72.8,"y":2.32},{"x":71.8,"y":2.2},{"x":72.4,"y":2.7},{"x":74.1,"y":2.74},{"x":74.5,"y":3.39},{"x":75.2,"y":2.6},{"x":75.2,"y":1.7},{"x":75.4,"y":0.35},{"x":76.4,"y":2.18},{"x":77.8,"y":1.59},{"x":78.1,"y":3.54},{"x":79.5,"y":3.7},{"x":80.5,"y":3.86},{"x":80.9,"y":3.57},{"x":80.5,"y":2.98},{"x":80.5,"y":2.77},{"x":80.9,"y":2.55},{"x":81.2,"y":1.92},{"x":81.2,"y":1.75},{"x":83.7,"y":3.13},{"x":84.7,"y":3.25},{"x":83.9,"y":2.91},{"x":84.6,"y":1.36},{"x":85.1,"y":1.11},{"x":86,"y":4.02},{"x":86.8,"y":3.98},{"x":86.2,"y":3.53},{"x":87.3,"y":3.49},{"x":88.1,"y":3.46},{"x":86,"y":3.1},{"x":87.7,"y":2.95},{"x":88.1,"y":2.88},{"x":89.8,"y":2.99},{"x":90.7,"y":2.91},{"x":86.4,"y":1.56},{"x":87.1,"y":1.52},{"x":89.4,"y":2.29},{"x":91.5,"y":2.27},{"x":90.1,"y":3.31},{"x":90.7,"y":3.84},{"x":91.5,"y":3.86},{"x":92.5,"y":3.81},{"x":91.7,"y":3.43},{"x":93.6,"y":3.51},{"x":92.4,"y":3.64},{"x":91.6,"y":2.63},{"x":92.4,"y":2.69},{"x":91.1,"y":2.66},{"x":93.2,"y":2.5},{"x":93.3,"y":2.47},{"x":94.1,"y":3.1},{"x":94.5,"y":3.03},{"x":94.9,"y":2.99},{"x":94.7,"y":2.93},{"x":94.7,"y":2.85},{"x":95.1,"y":2.8},{"x":94.1,"y":2.82},{"x":95.3,"y":2.72},{"x":94.5,"y":2.69},{"x":95.3,"y":2.64},{"x":96.2,"y":2.66},{"x":97,"y":2.69},{"x":96.6,"y":2.61},{"x":94.7,"y":2.55},{"x":94.5,"y":2.5},{"x":95.7,"y":2.74},{"x":96.8,"y":2.88},{"x":95.3,"y":3.26},{"x":96.6,"y":3.43},{"x":95.7,"y":3.37},{"x":97,"y":3.76},{"x":97,"y":3.66},{"x":97.3,"y":3.6},{"x":96.8,"y":3.09},{"x":94.9,"y":2.16},{"x":94.1,"y":1.76},{"x":96.6,"y":1.68},{"x":96.8,"y":1.25},{"x":95.3,"y":0.3},{"x":95.5,"y":0.22}
   ]},
   "mark": {"type": "point", "shape": "diamond", "filled": true, "size": 70, "opacity": 1, "color": "#000000"},
   "encoding": {
     "x": {"field": "x", "type": "quantitative", "scale": {"domain": [-4, 104], "nice": false, "zero": false}, "axis": {"values": [0, 20, 40, 60, 80, 100], "tickCount": 20, "labelPadding": 11, "labelOverlap": false, "title": "% Inhibition (sVNT)", "titleY": 63, "titleBaseline": "middle", "titleFontSize": 20}},
     "y": {"field": "y", "type": "quantitative", "scale": {"domain": [0.04, 4.153], "nice": false, "zero": false}, "axis": {"values": [1, 2, 3, 4], "tickCount": 20, "format": "d", "labelOverlap": false, "labelAngle": -90, "labelAlign": "center", "labelBaseline": "bottom", "labelPadding": 10, "title": null}}
   }},
   {"data": {"values": [{"x": 99.6, "y": 0.056, "t": "rs = 0.44"}]}, "mark": {"type": "text", "align": "right", "baseline": "alphabetic", "fontSize": 18, "color": "#333"}, "encoding": {"x": {"field": "x", "type": "quantitative"}, "y": {"field": "y", "type": "quantitative"}, "text": {"field": "t"}}}
  ]}
]
}
